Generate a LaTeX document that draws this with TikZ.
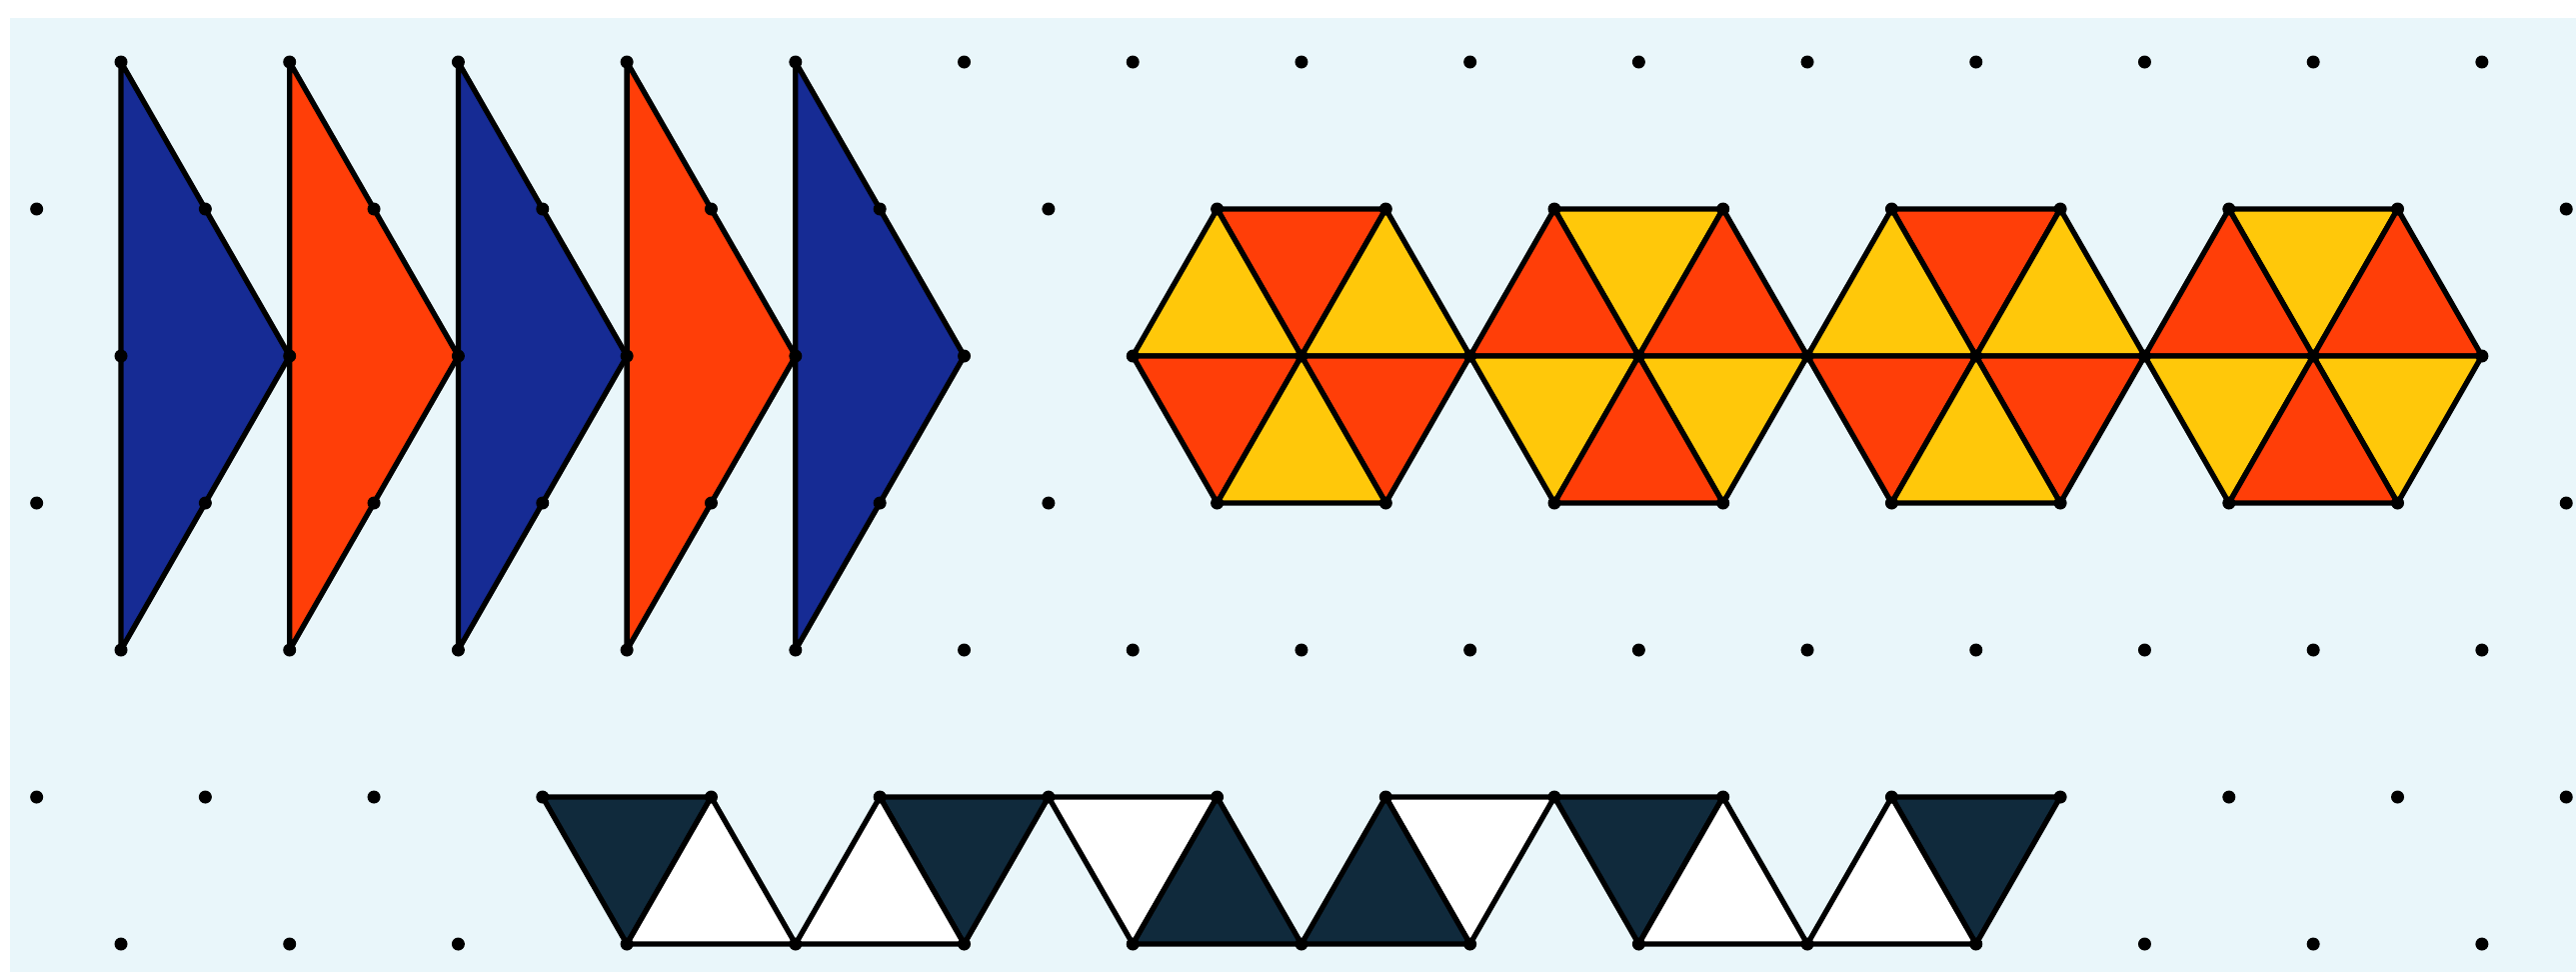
\documentclass[tikz,border=0pt]{standalone}
\usepackage{tikz}
\definecolor{paleblue}{RGB}{233,246,250}
\definecolor{arrowblue}{RGB}{22,43,148}
\definecolor{flamered}{RGB}{255,62,8}
\definecolor{sunyellow}{RGB}{255,200,10}
\definecolor{slate}{RGB}{16,42,60}

\begin{document}
\begin{tikzpicture}[x=1.687cm, y=-1.47cm,
    tri/.style={draw=black, line width=1.5pt, line join=round},
    gdot/.style={fill=black}]
    % page
    \fill[white] (-0.7173,-0.4218) rectangle (14.558,6.190);
    \fill[paleblue] (-0.658,-0.30) rectangle (14.558,6.190);

    % arrow heads
    \foreach \i/\c in {0/arrowblue,1/flamered,2/arrowblue,3/flamered,4/arrowblue}
        \filldraw[tri, fill=\c] (\i,0) -- (\i+1,2) -- (\i,4) -- cycle;

    % hexagons
    \foreach \m/\p/\q in {7/flamered/sunyellow, 9/sunyellow/flamered, 11/flamered/sunyellow, 13/sunyellow/flamered} {
        \filldraw[tri, fill=\p] (\m-0.5,1) -- (\m+0.5,1) -- (\m,2) -- cycle;
        \filldraw[tri, fill=\q] (\m-1,2) -- (\m-0.5,1) -- (\m,2) -- cycle;
        \filldraw[tri, fill=\q] (\m,2) -- (\m+0.5,1) -- (\m+1,2) -- cycle;
        \filldraw[tri, fill=\p] (\m-1,2) -- (\m,2) -- (\m-0.5,3) -- cycle;
        \filldraw[tri, fill=\p] (\m,2) -- (\m+1,2) -- (\m+0.5,3) -- cycle;
        \filldraw[tri, fill=\q] (\m-0.5,3) -- (\m,2) -- (\m+0.5,3) -- cycle;
    }

    % strip of rhombi
    \foreach \t/\c in {2.5/slate, 4.5/slate, 5.5/white, 7.5/white, 8.5/slate, 10.5/slate}
        \filldraw[tri, fill=\c] (\t,5) -- (\t+1,5) -- (\t+0.5,6) -- cycle;
    \foreach \b/\c in {3/white, 4/white, 6/slate, 7/slate, 9/white, 10/white}
        \filldraw[tri, fill=\c] (\b,6) -- (\b+1,6) -- (\b+0.5,5) -- cycle;

    % dot grid
    \foreach \r in {0,2,4,6}
        \foreach \k in {0,...,14}
            \fill[gdot] (\k,\r) circle[radius=0.065cm];
    \foreach \r in {1,3,5}
        \foreach \k in {0,...,15}
            \fill[gdot] (\k-0.5,\r) circle[radius=0.065cm];
\end{tikzpicture}
\end{document}
